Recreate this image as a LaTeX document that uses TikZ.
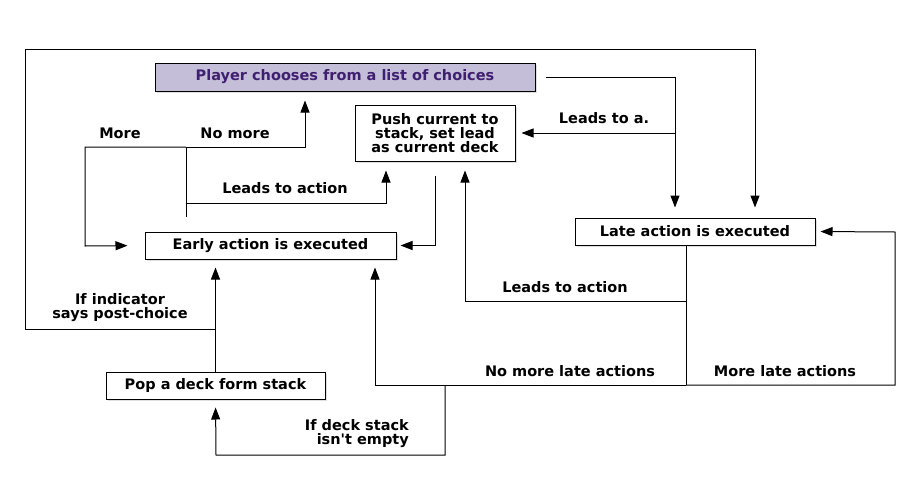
\documentclass[tikz,border=0pt]{standalone}
\usepackage{fontspec}
\setmainfont{DejaVu Sans}
\usetikzlibrary{arrows.meta,shadows}
\definecolor{choicefill}{HTML}{C4BED8}
\definecolor{choicetext}{HTML}{3F1F6F}
\tikzset{
  box/.style={draw,fill=white,line width=1pt,inner sep=0pt,align=center,
    drop shadow={shadow xshift=2pt,shadow yshift=-2pt,opacity=0.25}},
  lbl/.style={inner sep=0pt,align=center},
  arr/.style={line width=1pt,-{Triangle[length=12pt,width=9pt]}},
  ln/.style={line width=1pt}
}
\begin{document}
\begin{tikzpicture}[x=1pt,y=-1pt,font=\fontsize{14.5}{14}\selectfont\bfseries]
    \useasboundingbox[fill=white] (0,0) rectangle (920,490);
    %% Boxes
    \node[box,fill=choicefill,text=choicetext,minimum width=380pt,minimum height=28pt] (player) at (345,77) {Player chooses from a list of choices};
    \node[box,minimum width=160pt,minimum height=56pt] (push) at (435,133) {Push current to\\stack, set lead\\as current deck};
    \node[box,minimum width=251pt,minimum height=27pt] (early) at (270.5,245.5) {Early action is executed};
    \node[box,minimum width=240pt,minimum height=27pt] (late) at (695,231.5) {Late action is executed};
    \node[box,minimum width=219pt,minimum height=27pt] (pop) at (215.5,385.5) {Pop a deck form stack};
    %% Junctions
    \coordinate (more) at (186,147);
    \coordinate (act) at (186,203);
    \coordinate (lead) at (675,133);
    \coordinate (post) at (216,329);
    \coordinate (lateact) at (686,301);
    \coordinate (latebot) at (686,385);
    \coordinate (stack) at (445,385);
    %% Early action loop
    \draw[ln] ([xshift=-84.5pt,yshift=15pt]early.north) -- (more);
    \draw[arr,shorten >=17pt] (more) -| (85,246) -- (early.west);
    \draw[arr,shorten >=9pt] (more) -| ([xshift=-40pt]player.south);
    \draw[arr,shorten >=9pt] (act) -| ([xshift=-49pt]push.south);
    \draw[arr,shorten <=14pt,shorten >=4pt] (push.south) |- (early.east);
    %% Choices to late action
    \draw[arr,shorten <=10pt,shorten >=10pt] (player.east) -| ([xshift=-20pt]late.north);
    \draw[arr,shorten >=6pt] (lead) -- (push.east);
    \draw[arr,shorten >=10pt] (post) -| (25,49) -| ([xshift=60pt]late.north);
    %% Late action outcomes
    \draw[ln] ([xshift=-9pt]late.south) -- (latebot);
    \draw[arr,shorten >=9pt] (lateact) -| ([xshift=30pt]push.south);
    \draw[arr,shorten >=8pt] (latebot) -| ([xshift=104.5pt]early.south);
    \draw[arr,shorten >=5pt] (latebot) -| (895,232) -- (late.east);
    \draw[arr,shorten >=8pt] (stack) |- (216,455) -- (pop.south);
    \draw[arr,shorten >=8pt] (pop.north) -- (early.south -| pop.north);
    %% Labels
    \node[lbl] (lmore) at (120,133) {More};
    \node[lbl] (lnomore) at (235,133) {No more};
    \node[lbl] (lact) at (285,188) {Leads to action};
    \node[lbl] (llead) at (604,118) {Leads to a.};
    \node[lbl] (llateact) at (565,287) {Leads to action};
    \node[lbl] (lnolate) at (570,371) {No more late actions};
    \node[lbl] (lmorelate) at (785,371) {More late actions};
    \node[lbl] (lpost) at (120,308) {If indicator\\says post-choice};
    \node[lbl,align=right,anchor=east] (lstack) at (409,434) {If deck stack\\isn\textquotesingle t empty};
\end{tikzpicture}
\end{document}
